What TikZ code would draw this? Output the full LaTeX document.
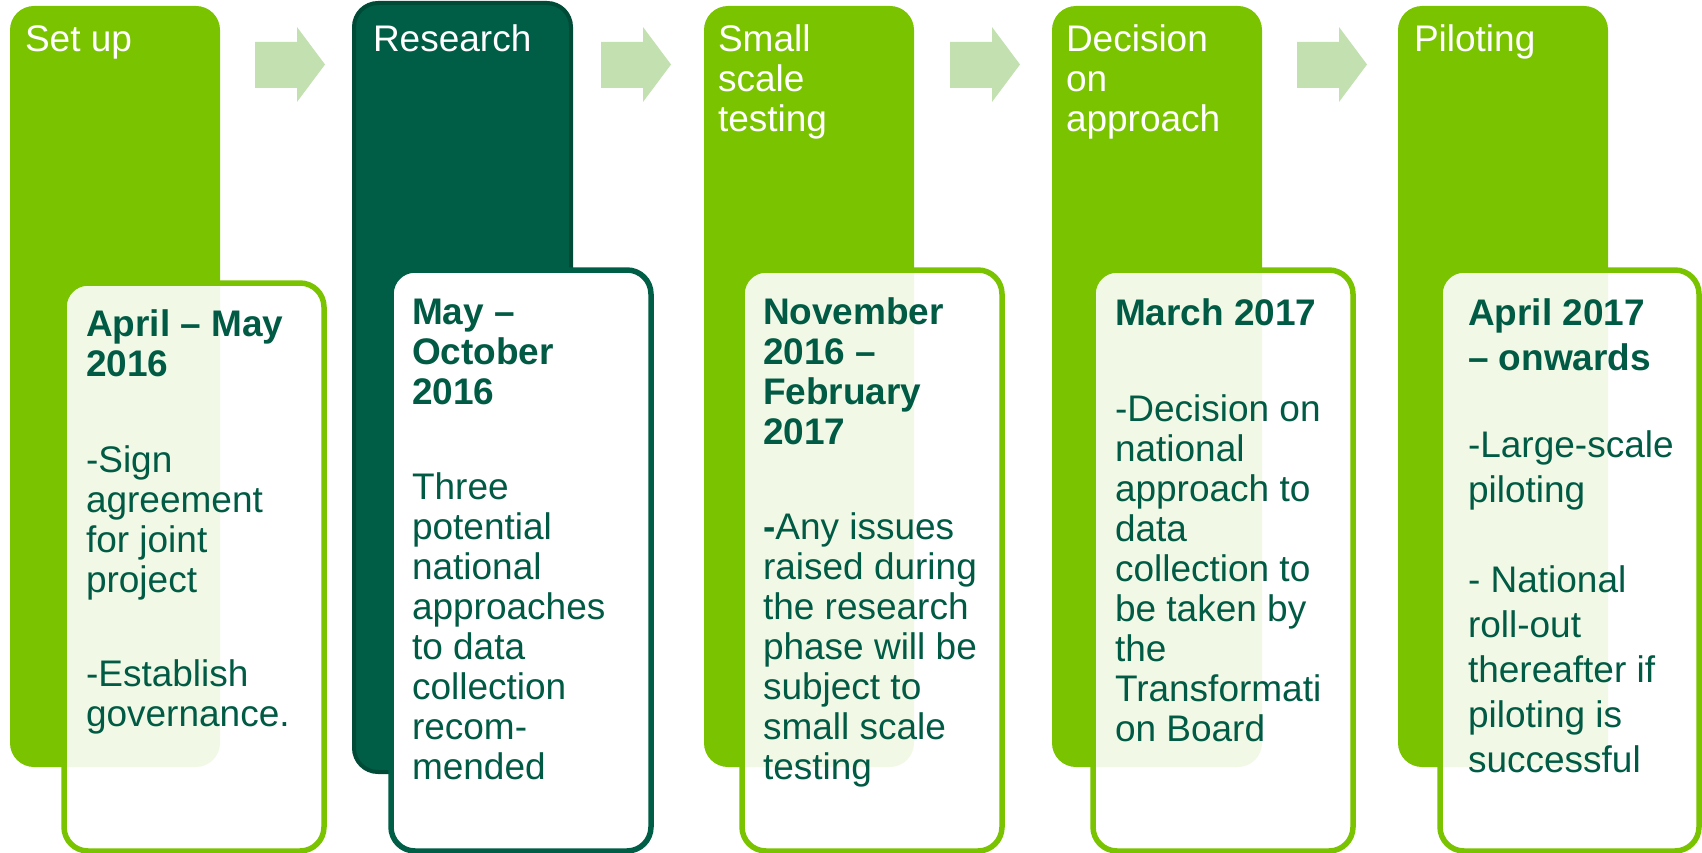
\documentclass[tikz,border=0pt]{standalone}
\usepackage{fontspec}
\setmainfont{Liberation Sans}
\definecolor{lime}{RGB}{122,195,0}
\definecolor{deepgreen}{RGB}{0,94,70}
\definecolor{deepborder}{RGB}{0,74,56}
\definecolor{arrowgreen}{RGB}{194,224,176}
\definecolor{txtgreen}{RGB}{0,90,68}
\newcommand{\Stack}[2]{\vtop{\lineskiplimit=-100pt\baselineskip=#1 #2}}
\newcommand{\Li}[1]{\hbox{#1}}
\newcommand{\Gap}[1]{\vskip #1}
\begin{document}
\begin{tikzpicture}[x=1pt,y=-1pt,
  every node/.style={inner sep=0pt,outer sep=0pt},
  column/.style={rectangle,rounded corners=24pt,anchor=north west,minimum width=210pt,minimum height=761pt,fill=lime},
  darkcolumn/.style={column,fill=deepgreen,draw=deepborder,line width=4pt,minimum width=217pt,minimum height=769pt},
  datebox/.style={rectangle,rounded corners=24pt,anchor=north west,minimum width=260pt,draw=lime,line width=5.5pt,fill=white,fill opacity=0.9,draw opacity=1},
  darkdatebox/.style={datebox,draw=deepgreen,fill opacity=1},
  titletext/.style={anchor=base west,text=white,font=\fontsize{37pt}{40pt}\selectfont},
  bodytext/.style={anchor=base west,text=txtgreen,font=\fontsize{37pt}{40pt}\selectfont},
  blockarrow/.style={fill=arrowgreen}
]
\useasboundingbox (0,0) rectangle (1702,853);

% tall columns
\node[column] (c1) at (10,6) {};
\node[darkcolumn] (c2) at (354,3) {};
\node[column] (c3) at (704,6) {};
\node[column] (c4) at (1052,6) {};
\node[column] (c5) at (1398,6) {};

% block arrows
\foreach \x/\n in {255/a1,601/a2,950/a3,1297/a4}{
  \fill[blockarrow] (\x,42) -- (\x+42,42) -- (\x+42,27) -- (\x+70,64.5) -- (\x+42,102) -- (\x+42,88) -- (\x,88) -- cycle;
}

% titles
\node[titletext] (t1) at (25,52) {\Stack{40pt}{\Li{Set up}}};
\node[titletext] (t2) at (373,52) {\Stack{40pt}{\Li{Research}}};
\node[titletext] (t3) at (718,52) {\Stack{40pt}{\Li{Small}\Li{scale}\Li{testing}}};
\node[titletext] (t4) at (1066,52) {\Stack{40pt}{\Li{Decision}\Li{on}\Li{approach}}};
\node[titletext] (t5) at (1414,52) {\Stack{40pt}{\Li{Piloting}}};

% date boxes
\node[datebox,minimum height=568pt] (b1) at (64,283) {};
\node[darkdatebox,minimum height=581pt] (b2) at (391,270) {};
\node[datebox,minimum height=581pt] (b3) at (742,270) {};
\node[datebox,minimum height=581pt] (b4) at (1093,270) {};
\node[datebox,minimum height=581pt,minimum width=259pt] (b5) at (1440,270) {};

% box texts
\node[bodytext] (x1) at (86,336) {\Stack{40pt}{%
  \Li{\textbf{April – May}}\Li{\textbf{2016}}\Gap{56pt}%
  \Li{-Sign}\Li{agreement}\Li{for joint}\Li{project}\Gap{54pt}%
  \Li{-Establish}\Li{governance.}}};
\node[bodytext] (x2) at (412,324) {\Stack{40pt}{%
  \Li{\textbf{May –}}\Li{\textbf{October}}\Li{\textbf{2016}}\Gap{55pt}%
  \Li{Three}\Li{potential}\Li{national}\Li{approaches}\Li{to data}\Li{collection}\Li{recom-}\Li{mended}}};
\node[bodytext] (x3) at (763,324) {\Stack{40pt}{%
  \Li{\textbf{November}}\Li{\textbf{2016 –}}\Li{\textbf{February}}\Li{\textbf{2017}}\Gap{55pt}%
  \Li{\textbf{-}Any issues}\Li{raised during}\Li{the research}\Li{phase will be}\Li{subject to}\Li{small scale}\Li{testing}}};
\node[bodytext] (x4) at (1115,325) {\Stack{40pt}{%
  \Li{\textbf{March 2017}}\Gap{56pt}%
  \Li{-Decision on}\Li{national}\Li{approach to}\Li{data}\Li{collection to}\Li{be taken by}\Li{the}\Li{Transformati}\Li{on Board}}};
\node[bodytext] (x5) at (1468,325) {\Stack{45pt}{%
  \Li{\textbf{April 2017}}\Li{\textbf{– onwards}}\Gap{42pt}%
  \Li{-Large-scale}\Li{piloting}\Gap{45pt}%
  \Li{- National}\Li{roll-out}\Li{thereafter if}\Li{piloting is}\Li{successful}}};
\end{tikzpicture}
\end{document}
